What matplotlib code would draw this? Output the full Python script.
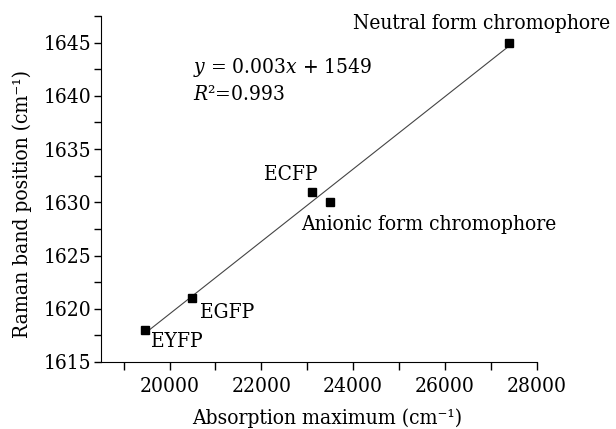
import numpy as np
import matplotlib
matplotlib.use("Agg")
import matplotlib.pyplot as plt
from matplotlib.ticker import MultipleLocator

plt.rcParams['font.family'] = ['DejaVu Serif']
plt.rcParams['font.stretch'] = 'condensed'
plt.rcParams['mathtext.fontset'] = 'dejavuserif'

names = ["EYFP", "EGFP", "ECFP", "Anionic form chromophore", "Neutral form chromophore"]
absorption = [19455, 20492, 23095, 23500, 27400]
raman = [1618, 1621, 1631, 1630, 1645]

fig = plt.figure(figsize=(6.16, 4.29), dpi=100)
ax = fig.add_axes([0.1635, 0.1562, 0.7078, 0.8065])

coef = np.polyfit(absorption, raman, 1)
xf = np.array([min(absorption), max(absorption)])
ax.plot(xf, np.polyval(coef, xf), color='#444444', lw=0.8, zorder=1)
ax.plot(absorption, raman, 's', color='black', ms=5.8, zorder=2)

fs = 15
offsets = {
    "EYFP": (5, -8, 'left', 'center'),
    "EGFP": (6, -10, 'left', 'center'),
    "ECFP": (-15, 12, 'center', 'center'),
    "Anionic form chromophore": (-21, -16, 'left', 'center'),
    "Neutral form chromophore": (-20, 14, 'center', 'center'),
}
for n, x, y in zip(names, absorption, raman):
    dx, dy, ha, va = offsets[n]
    ax.annotate(n, (x, y), xytext=(dx, dy), textcoords='offset points',
                ha=ha, va=va, fontsize=fs, annotation_clip=False)

ax.text(0.211, 0.85, "$y$ = 0.003$x$ + 1549", transform=ax.transAxes,
        fontsize=fs, ha='left', va='center')
ax.text(0.211, 0.772, "$R$²=0.993", transform=ax.transAxes,
        fontsize=fs, ha='left', va='center')

ax.set_xlim(18500, 28000)
ax.set_ylim(1615, 1647.5)
ax.xaxis.set_major_locator(MultipleLocator(2000))
ax.xaxis.set_minor_locator(MultipleLocator(1000))
ax.yaxis.set_major_locator(MultipleLocator(5))
ax.yaxis.set_minor_locator(MultipleLocator(2.5))
ax.tick_params(which='both', direction='out', labelsize=fs, width=1)
ax.tick_params(axis='x', which='both', length=6, pad=5)
ax.tick_params(axis='y', which='both', length=5, pad=1.5)
ax.spines['top'].set_visible(False)
ax.spines['right'].set_visible(False)
ax.set_xlabel("Absorption maximum (cm⁻¹)", fontsize=fs)
ax.set_ylabel("Raman band position (cm⁻¹)", fontsize=fs)
ax.xaxis.set_label_coords(0.52, -0.133)
ax.yaxis.set_label_coords(-0.158, 0.458)

fig.savefig("out.png", dpi=100)
